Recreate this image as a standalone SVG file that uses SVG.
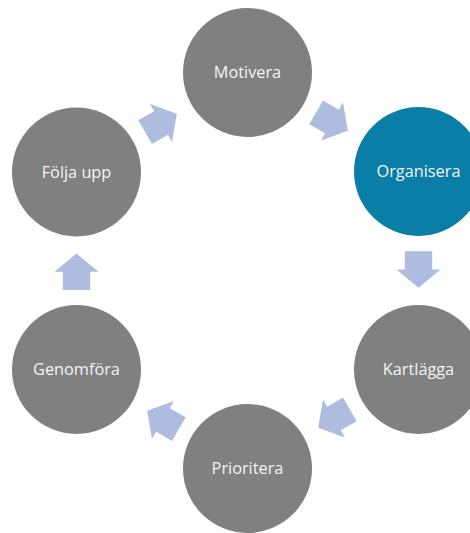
<svg xmlns="http://www.w3.org/2000/svg" width="470" height="533" viewBox="0 0 470 533">
<style>
.n{fill:#808080}
.b{fill:#0A7EA6}
.t{fill:#f4f4f4;font-family:"Open Sans","DejaVu Sans",sans-serif;font-size:16.3px;text-anchor:middle}
.a{fill:#AEBCDF}
</style>
<defs>
<path id="arr" d="M-18.3,-13.7 L0,-13.7 L0,-22 L18.3,0 L0,22 L0,13.7 L-18.3,13.7 Z"/>
</defs>
<rect width="470" height="533" fill="#ffffff"/>
<g id="connectors">
<use href="#arr" class="a" transform="translate(332,121.5) rotate(30)"/>
<use href="#arr" class="a" transform="translate(418.5,269.5) rotate(90)"/>
<use href="#arr" class="a" transform="translate(334,418.5) rotate(150)"/>
<use href="#arr" class="a" transform="translate(163,420) rotate(210)"/>
<use href="#arr" class="a" transform="translate(76.5,271.8) rotate(270)"/>
<use href="#arr" class="a" transform="translate(161,123) rotate(-30)"/>
</g>
<g id="motivera"><circle class="n" cx="247.5" cy="72.5" r="64.5"/><text class="t" x="247.5" y="78">Motivera</text></g>
<g id="organisera"><circle class="b" cx="418.5" cy="171.5" r="64.5"/><text class="t" x="418.5" y="177">Organisera</text></g>
<g id="kartlagga"><circle class="n" cx="418.5" cy="369.5" r="64.5"/><text class="t" x="418.5" y="375">Kartlägga</text></g>
<g id="prioritera"><circle class="n" cx="247.5" cy="468.5" r="64.5"/><text class="t" x="247.5" y="474">Prioritera</text></g>
<g id="genomfora"><circle class="n" cx="76.5" cy="369.5" r="64.5"/><text class="t" x="76.5" y="375">Genomföra</text></g>
<g id="foljaupp"><circle class="n" cx="76.5" cy="172" r="64.5"/><text class="t" x="76.5" y="177.5">Följa upp</text></g>
</svg>
